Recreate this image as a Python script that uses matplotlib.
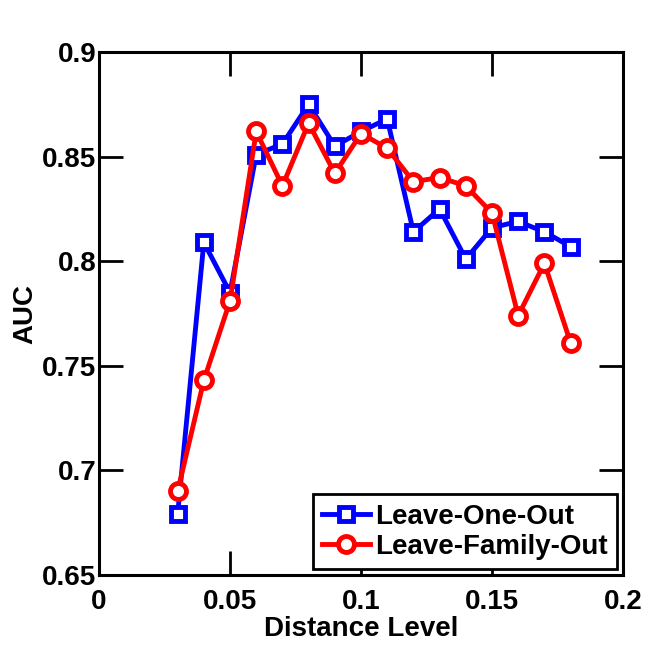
import matplotlib
matplotlib.use("Agg")
import matplotlib.pyplot as plt

plt.rcParams["font.family"] = ["Liberation Sans", "DejaVu Sans"]
plt.rcParams["font.weight"] = "bold"

distance = [0.03, 0.04, 0.05, 0.06, 0.07, 0.08, 0.09, 0.10, 0.11,
            0.12, 0.13, 0.14, 0.15, 0.16, 0.17, 0.18]
auc_loo = [0.679, 0.809, 0.785, 0.851, 0.856, 0.875, 0.855, 0.862, 0.868,
           0.814, 0.825, 0.801, 0.816, 0.819, 0.814, 0.807]
auc_lfo = [0.690, 0.743, 0.781, 0.862, 0.836, 0.866, 0.842, 0.861, 0.854,
           0.838, 0.840, 0.836, 0.823, 0.774, 0.799, 0.761]

xticks = [0, 0.05, 0.1, 0.15, 0.2]
xticklabels = ["0", "0.05", "0.1", "0.15", "0.2"]
yticks = [0.65, 0.7, 0.75, 0.8, 0.85, 0.9]
yticklabels = ["0.65", "0.7", "0.75", "0.8", "0.85", "0.9"]

fig = plt.figure(figsize=(6.46, 6.45), dpi=100, facecolor="white")
ax = fig.add_axes([0.1533, 0.1085, 0.8111, 0.8109])

ax.plot(distance, auc_loo, color="#0000ff", lw=3.5, marker="s", ms=10,
        mec="#0000ff", mfc="white", mew=3.5, label="Leave-One-Out")
ax.plot(distance, auc_lfo, color="#ff0000", lw=3.5, marker="o", ms=11.5,
        mec="#ff0000", mfc="white", mew=3.5, label="Leave-Family-Out")

ax.set_xlim(0, 0.2)
ax.set_ylim(0.65, 0.9)
ax.set_xticks(xticks)
ax.set_xticklabels(xticklabels)
ax.set_yticks(yticks)
ax.set_yticklabels(yticklabels)
ax.tick_params(direction="in", length=17, width=2, labelsize=20,
               top=True, right=True)
ax.tick_params(axis="x", pad=10)
ax.tick_params(axis="y", pad=2)
for s in ax.spines.values():
    s.set_linewidth(2.2)

ax.set_xlabel("Distance Level", fontsize=20, fontweight="bold", labelpad=1)
ax.set_ylabel("AUC", fontsize=20, fontweight="bold", labelpad=3)

leg = ax.legend(loc="lower right", fontsize=20, frameon=True, fancybox=False,
                edgecolor="black", framealpha=1, borderpad=0.35,
                handlelength=1.7, handletextpad=0.2, labelspacing=0.15,
                borderaxespad=0.2)
leg.get_frame().set_linewidth(2)
for t in leg.get_texts():
    t.set_fontweight("bold")

fig.savefig("out.png", dpi=100, facecolor="white")
